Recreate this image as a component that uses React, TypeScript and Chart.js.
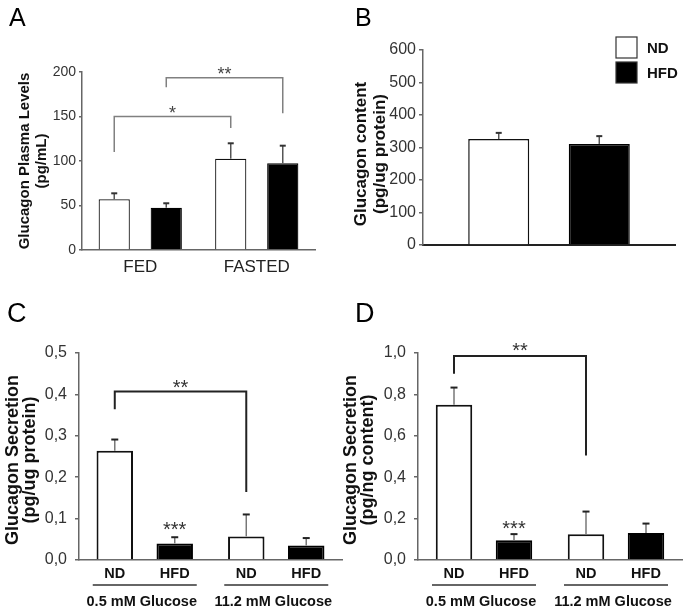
import React, { useEffect, useRef } from 'react';
import { Chart, registerables } from 'chart.js';

Chart.register(...registerables);

const FONT = '"Liberation Sans", Arial, Helvetica, sans-serif';
const SERIES = ['ND', 'HFD'];

// ---------- Panel A : plasma glucagon ----------
const A_CATEGORIES = ['FED', 'FASTED'];
const A_ND = [57, 102.6];
const A_HFD = [47.5, 97.4];
const A_ND_ERR = [6.7, 17.3];
const A_HFD_ERR = [5, 19.8];
// bracket: from [category, dataset] to [category, dataset], left drop end, top, right drop end
const A_BRACKETS = [
  { from: [0, 0], to: [1, 0], left: 110, top: 150, right: 137, label: '*' },
  { from: [0, 1], to: [1, 1], left: 183, top: 193.6, right: 153.6, label: '**' },
];

// ---------- Panel B : glucagon content ----------
const B_CATEGORIES = [''];
const B_ND = [326];
const B_HFD = [311];
const B_ND_ERR = [19];
const B_HFD_ERR = [24];

// ---------- Panel C : secretion per protein ----------
const C_GROUPS = ['0.5 mM Glucose', '11.2 mM Glucose'];
const C_ND = [0.264, 0.057];
const C_HFD = [0.04, 0.035];
const C_ND_ERR = [0.027, 0.053];
const C_HFD_ERR = [0.015, 0.018];
const C_TICK_LABELS = ['0,0', '0,1', '0,2', '0,3', '0,4', '0,5'];
const C_BRACKETS = [{ from: [0, 0], to: [1, 0], left: 0.364, top: 0.407, right: 0.164, label: '**' }];
const C_MARKS = [{ cat: 0, ds: 1, label: '***' }];

// ---------- Panel D : secretion per content ----------
const D_GROUPS = ['0.5 mM Glucose', '11.2 mM Glucose'];
const D_ND = [0.75, 0.125];
const D_HFD = [0.096, 0.13];
const D_ND_ERR = [0.083, 0.109];
const D_HFD_ERR = [0.029, 0.046];
const D_TICK_LABELS = ['0,0', '0,2', '0,4', '0,6', '0,8', '1,0'];
const D_BRACKETS = [{ from: [0, 0], to: [1, 0], left: 0.9, top: 0.986, right: 0.505, label: '**' }];
const D_MARKS = [{ cat: 0, ds: 1, label: '***' }];

function makeDecor(d: any) {
  return {
    id: 'decor',
    afterDatasetsDraw(chart: any) {
      const ctx = chart.ctx;
      const ys = chart.scales.y;
      const xs = chart.scales.x;
      const bar = (cat: number, ds: number) => chart.getDatasetMeta(ds).data[cat];
      const val = (cat: number, ds: number) => chart.data.datasets[ds].data[cat] as number;
      ctx.save();

      // error bars
      (d.errors || []).forEach((errs: number[], ds: number) => {
        errs.forEach((e, cat) => {
          const b = bar(cat, ds);
          const yt = ys.getPixelForValue(val(cat, ds));
          const ye = ys.getPixelForValue(val(cat, ds) + e);
          ctx.strokeStyle = d.errColor;
          ctx.lineWidth = d.errWidth;
          ctx.beginPath();
          ctx.moveTo(b.x, yt);
          ctx.lineTo(b.x, ye);
          ctx.stroke();
          ctx.strokeStyle = d.capColor;
          ctx.lineWidth = d.capWidth;
          ctx.beginPath();
          ctx.moveTo(b.x - d.capHalf, ye);
          ctx.lineTo(b.x + d.capHalf, ye);
          ctx.stroke();
        });
      });

      // brackets
      (d.brackets || []).forEach((br: any) => {
        const x1 = bar(br.from[0], br.from[1]).x;
        const x2 = bar(br.to[0], br.to[1]).x;
        const yl = ys.getPixelForValue(br.left);
        const yt = ys.getPixelForValue(br.top);
        const yr = ys.getPixelForValue(br.right);
        ctx.strokeStyle = d.bracketColor;
        ctx.lineWidth = d.bracketWidth;
        ctx.lineJoin = 'miter';
        ctx.beginPath();
        ctx.moveTo(x1, yl);
        ctx.lineTo(x1, yt);
        ctx.lineTo(x2, yt);
        ctx.lineTo(x2, yr);
        ctx.stroke();
        ctx.fillStyle = d.starColor;
        ctx.font = `${d.starSize}px ${FONT}`;
        ctx.textAlign = 'center';
        ctx.textBaseline = 'alphabetic';
        ctx.fillText(br.label, (x1 + x2) / 2, yt - d.starGap + 0.58 * d.starSize);
      });

      // marks above bars
      (d.marks || []).forEach((m: any) => {
        const b = bar(m.cat, m.ds);
        const e = d.errors[m.ds][m.cat];
        const ye = ys.getPixelForValue(val(m.cat, m.ds) + e);
        ctx.fillStyle = d.starColor;
        ctx.font = `${d.starSize}px ${FONT}`;
        ctx.textAlign = 'center';
        ctx.textBaseline = 'alphabetic';
        ctx.fillText(m.label, b.x, ye - d.markGap + 0.58 * d.starSize);
      });

      // category labels (A)
      if (d.catLabels) {
        ctx.fillStyle = '#222';
        ctx.font = `${d.catLabels.size}px ${FONT}`;
        ctx.textAlign = 'center';
        ctx.textBaseline = 'middle';
        chart.data.labels.forEach((lab: string, i: number) => {
          ctx.fillText(lab, xs.getPixelForValue(i), d.catLabels.y);
        });
      }

      // series + group labels (C, D)
      if (d.groupLabels) {
        const g = d.groupLabels;
        ctx.fillStyle = '#111';
        ctx.font = `bold ${g.size}px ${FONT}`;
        ctx.textAlign = 'center';
        ctx.textBaseline = 'middle';
        chart.data.labels.forEach((lab: string, cat: number) => {
          SERIES.forEach((s, ds) => {
            ctx.fillText(s, bar(cat, ds).x, g.seriesY);
          });
          const cx = xs.getPixelForValue(cat);
          ctx.strokeStyle = '#333';
          ctx.lineWidth = 1.5;
          ctx.beginPath();
          ctx.moveTo(cx - g.lineHalf, g.lineY);
          ctx.lineTo(cx + g.lineHalf, g.lineY);
          ctx.stroke();
          ctx.fillText(lab, cx + g.offset, g.groupY);
        });
      }

      // legend (B)
      if (d.legend) {
        const L = d.legend;
        chart.data.datasets.forEach((ds: any, i: number) => {
          const by = L.ys[i];
          ctx.fillStyle = ds.backgroundColor;
          ctx.fillRect(L.x, by, L.size, L.size);
          ctx.strokeStyle = '#333';
          ctx.lineWidth = 1.2;
          ctx.strokeRect(L.x, by, L.size, L.size);
          ctx.fillStyle = '#111';
          ctx.font = `bold ${L.font}px ${FONT}`;
          ctx.textAlign = 'left';
          ctx.textBaseline = 'middle';
          ctx.fillText(ds.label, L.textX, by + L.size / 2 + 1);
        });
      }

      // y title
      if (d.yTitle) {
        const t = d.yTitle;
        ctx.fillStyle = '#111';
        ctx.font = `bold ${t.size}px ${FONT}`;
        ctx.textAlign = 'center';
        ctx.textBaseline = 'middle';
        t.lines.forEach((line: string, i: number) => {
          ctx.save();
          ctx.translate(t.xs[i], t.y);
          ctx.rotate(-Math.PI / 2);
          ctx.fillText(line, 0, 0);
          ctx.restore();
        });
      }

      // panel letter
      if (d.letter) {
        ctx.fillStyle = '#000';
        ctx.font = `${d.letter.size}px ${FONT}`;
        ctx.textAlign = 'left';
        ctx.textBaseline = 'alphabetic';
        ctx.fillText(d.letter.text, d.letter.x, d.letter.y);
      }
      ctx.restore();
    },
  };
}

const SPECS: any[] = [
  {
    left: 0, top: 0, width: 340, height: 290,
    area: { left: 82, top: 72, right: 315, bottom: 250 },
    categories: A_CATEGORIES, nd: A_ND, hfd: A_HFD,
    yMax: 200, yStep: 50, tickFont: 14, tickPad: 3, tickLen: 3,
    catPct: 0.893, barPct: 0.6, barBorder: 1.2,
    axisColor: '#666', xAxisColor: '#666', xAxisWidth: 1.5,
    decor: {
      errors: [A_ND_ERR, A_HFD_ERR],
      errColor: '#555', errWidth: 1.5, capColor: '#333', capWidth: 2, capHalf: 3,
      brackets: A_BRACKETS, bracketColor: '#808080', bracketWidth: 1.5,
      starColor: '#444', starSize: 18, starGap: 8,
      catLabels: { y: 267, size: 17 },
      yTitle: { lines: ['Glucagon Plasma Levels', '(pg/mL)'], xs: [25, 42], y: 161, size: 15 },
      letter: { text: 'A', x: 9, y: 26, size: 25 },
    },
  },
  {
    left: 340, top: 0, width: 345, height: 290,
    area: { left: 83, top: 50, right: 335, bottom: 245 },
    categories: B_CATEGORIES, nd: B_ND, hfd: B_HFD,
    yMax: 600, yStep: 100, tickFont: 16, tickPad: 3, tickLen: 4,
    catPct: 0.798, barPct: 0.607, barBorder: 1.5,
    axisColor: '#666', xAxisColor: '#222', xAxisWidth: 2,
    decor: {
      errors: [B_ND_ERR, B_HFD_ERR],
      errColor: '#555', errWidth: 1.5, capColor: '#333', capWidth: 2, capHalf: 3,
      legend: { x: 276, ys: [37, 62], size: 21, textX: 307, font: 15 },
      yTitle: { lines: ['Glucagon content', '(pg/ug protein)'], xs: [21, 40], y: 154, size: 17 },
      letter: { text: 'B', x: 15, y: 26, size: 25 },
    },
  },
  {
    left: 0, top: 290, width: 345, height: 324,
    area: { left: 79, top: 63, right: 342, bottom: 270 },
    categories: C_GROUPS, nd: C_ND, hfd: C_HFD, tickLabels: C_TICK_LABELS,
    yMax: 0.5, yStep: 0.1, tickFont: 16, tickPad: 8, tickLen: 4,
    catPct: 0.912, barPct: 0.608, barBorder: 2,
    axisColor: '#666', xAxisColor: '#666', xAxisWidth: 1.5,
    decor: {
      errors: [C_ND_ERR, C_HFD_ERR],
      errColor: '#777', errWidth: 1.5, capColor: '#222', capWidth: 2, capHalf: 3.5,
      brackets: C_BRACKETS, bracketColor: '#222', bracketWidth: 2,
      marks: C_MARKS, markGap: 13,
      starColor: '#333', starSize: 20, starGap: 9,
      groupLabels: { size: 14.5, seriesY: 284, lineY: 295, lineHalf: 52, groupY: 312, offset: -3 },
      yTitle: { lines: ['Glucagon Secretion', '(pg/ug protein)'], xs: [13, 30], y: 170, size: 18 },
      letter: { text: 'C', x: 7, y: 32, size: 27 },
    },
  },
  {
    left: 340, top: 290, width: 345, height: 324,
    area: { left: 78, top: 63, right: 342, bottom: 270 },
    categories: D_GROUPS, nd: D_ND, hfd: D_HFD, tickLabels: D_TICK_LABELS,
    yMax: 1.0, yStep: 0.2, tickFont: 16, tickPad: 8, tickLen: 4,
    catPct: 0.909, barPct: 0.608, barBorder: 2,
    axisColor: '#666', xAxisColor: '#666', xAxisWidth: 1.5,
    decor: {
      errors: [D_ND_ERR, D_HFD_ERR],
      errColor: '#777', errWidth: 1.5, capColor: '#222', capWidth: 2, capHalf: 3.5,
      brackets: D_BRACKETS, bracketColor: '#222', bracketWidth: 2,
      marks: D_MARKS, markGap: 11,
      starColor: '#333', starSize: 20, starGap: 10,
      groupLabels: { size: 14.5, seriesY: 284, lineY: 295, lineHalf: 52, groupY: 312, offset: -3 },
      yTitle: { lines: ['Glucagon Secretion', '(pg/ng content)'], xs: [11, 28], y: 170, size: 18 },
      letter: { text: 'D', x: 15, y: 32, size: 27 },
    },
  },
];

function buildConfig(spec: any): any {
  const a = spec.area;
  return {
    type: 'bar',
    data: {
      labels: spec.categories,
      datasets: [
        {
          label: SERIES[0], data: spec.nd, backgroundColor: '#ffffff', borderColor: '#111111',
          borderWidth: spec.barBorder, categoryPercentage: spec.catPct, barPercentage: spec.barPct,
        },
        {
          label: SERIES[1], data: spec.hfd, backgroundColor: '#000000', borderColor: '#000000',
          borderWidth: spec.barBorder, categoryPercentage: spec.catPct, barPercentage: spec.barPct,
        },
      ],
    },
    options: {
      responsive: false,
      animation: false,
      events: [],
      layout: { padding: { left: 0, top: a.top, right: spec.width - a.right, bottom: 0 } },
      plugins: { legend: { display: false }, tooltip: { enabled: false } },
      scales: {
        x: {
          type: 'category',
          offset: true,
          grid: { display: false },
          ticks: { display: false },
          border: { display: true, color: spec.xAxisColor, width: spec.xAxisWidth },
          afterFit: (s: any) => { s.height = spec.height - a.bottom; },
        },
        y: {
          min: 0,
          max: spec.yMax,
          ticks: {
            stepSize: spec.yStep,
            color: '#333',
            padding: spec.tickPad,
            font: { family: FONT, size: spec.tickFont },
            callback: (v: number, i: number) => (spec.tickLabels ? spec.tickLabels[i] : String(v)),
          },
          grid: { drawOnChartArea: false, drawTicks: true, tickLength: spec.tickLen, color: spec.axisColor, lineWidth: 1.5 },
          border: { display: true, color: spec.axisColor, width: 1.5 },
          afterFit: (s: any) => { s.width = a.left; },
        },
      },
    },
    plugins: [makeDecor(spec.decor)],
  };
}

function Panel({ spec }: { spec: any }) {
  const ref = useRef<HTMLCanvasElement | null>(null);
  useEffect(() => {
    if (!ref.current) return;
    const chart = new Chart(ref.current, buildConfig(spec));
    return () => chart.destroy();
  }, [spec]);
  return (
    <div style={{ position: 'absolute', left: spec.left, top: spec.top, width: spec.width, height: spec.height }}>
      <canvas ref={ref} width={spec.width} height={spec.height} style={{ display: 'block', width: spec.width, height: spec.height }} />
    </div>
  );
}

export default function App() {
  return (
    <div style={{ position: 'absolute', left: 0, top: 0, width: 685, height: 614, background: '#ffffff', overflow: 'hidden' }}>
      {SPECS.map((s, i) => (
        <Panel key={i} spec={s} />
      ))}
    </div>
  );
}
